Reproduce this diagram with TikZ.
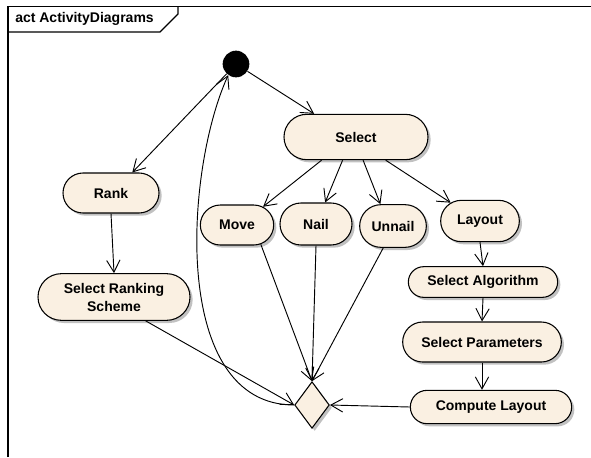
\documentclass[tikz,border=0pt]{standalone}
\usepackage{fontspec}
\newfontfamily\umlfont{Liberation Sans}
\usetikzlibrary{shapes.misc,shapes.geometric,arrows.meta,shadows}
\definecolor{actfill}{RGB}{250,240,226}
\tikzset{
  action/.style={rounded rectangle, draw, line width=0.8pt, fill=actfill,
    drop shadow={shadow xshift=2pt,shadow yshift=-2pt,fill=black!30,opacity=0.8},
    font=\umlfont\bfseries\fontsize{10.5}{13.5}\selectfont, inner sep=0pt, align=center},
  flow/.style={-{Straight Barb[length=9pt,width=10pt]}, line width=0.7pt},
}
\begin{document}
\begin{tikzpicture}[x=0.75pt,y=0.75pt,yscale=-1,xscale=1]
\useasboundingbox (0,0) rectangle (591,457);

%Frame
\draw [line width=1pt] (8,457) -- (8,6.5) -- (591,6.5) ;
\draw [line width=1pt] (8,32) -- (160,32) -- (178,14) -- (178,6.5) ;
\node [anchor=west, inner sep=0pt, font=\umlfont\bfseries\fontsize{10.5}{13.5}\selectfont] (title) at (15,19) {act ActivityDiagrams};

%Initial node
\node [circle, fill=black, minimum size=20pt, inner sep=0pt] (start) at (236,64) {};

%Actions
\node [action, minimum width=108pt, minimum height=34pt] (select) at (356,137) {Select};
\node [action, minimum width=55pt, minimum height=30pt] (move) at (237,225) {Move};
\node [action, minimum width=54pt, minimum height=31.5pt] (nail) at (316,224) {Nail};
\node [action, minimum width=50pt, minimum height=32pt] (unnail) at (393,226) {Unnail};
\node [action, minimum width=59pt, minimum height=31pt] (layout) at (480,221) {Layout};
\node [action, minimum width=112pt, minimum height=23pt] (algo) at (483,282) {Select Algorithm};
\node [action, minimum width=119pt, minimum height=30pt] (params) at (482,342) {Select Parameters};
\node [action, minimum width=121pt, minimum height=25pt] (compute) at (491,407) {Compute Layout};
\node [action, minimum width=72pt, minimum height=30pt] (rank) at (111,193) {Rank};
\node [action, minimum width=114pt, minimum height=35pt] (scheme) at (114,297) {Select Ranking\\Scheme};

%Merge node
\node [diamond, draw, line width=0.8pt, fill=actfill, inner sep=0pt, minimum width=26pt, minimum height=35pt,
  drop shadow={shadow xshift=2pt,shadow yshift=-2pt,fill=black!30,opacity=0.8}] (merge) at (312,405) {};

%Flows
\draw [flow] (start) -- (select.151) ;
\draw [flow] (start) -- (rank.44) ;
\draw [flow] (select.214) -- (move.35) ;
\draw [flow] (select.240) -- (nail.67) ;
\draw [flow] (select.287) -- (unnail.120) ;
\draw [flow] (select.322) -- (layout.148) ;
\draw [flow] (layout.south) -- (algo.north) ;
\draw [flow] (algo.south) -- (params.north) ;
\draw [flow] (params.south) -- (params.south |- compute.north) ;
\draw [flow] (compute.west) -- (merge.east) ;
\draw [flow] (rank.south) -- (scheme.north) ;
\draw [flow] (scheme.323) -- (merge.west) ;
\draw [flow] (move.321) -- (merge.north) ;
\draw [flow] (nail.south) -- (merge.north) ;
\draw [flow] (unnail.246) -- (merge.north) ;
\draw [flow] (merge.west) .. controls (170,405) and (185,170) .. (start.235) ;

\end{tikzpicture}
\end{document}
